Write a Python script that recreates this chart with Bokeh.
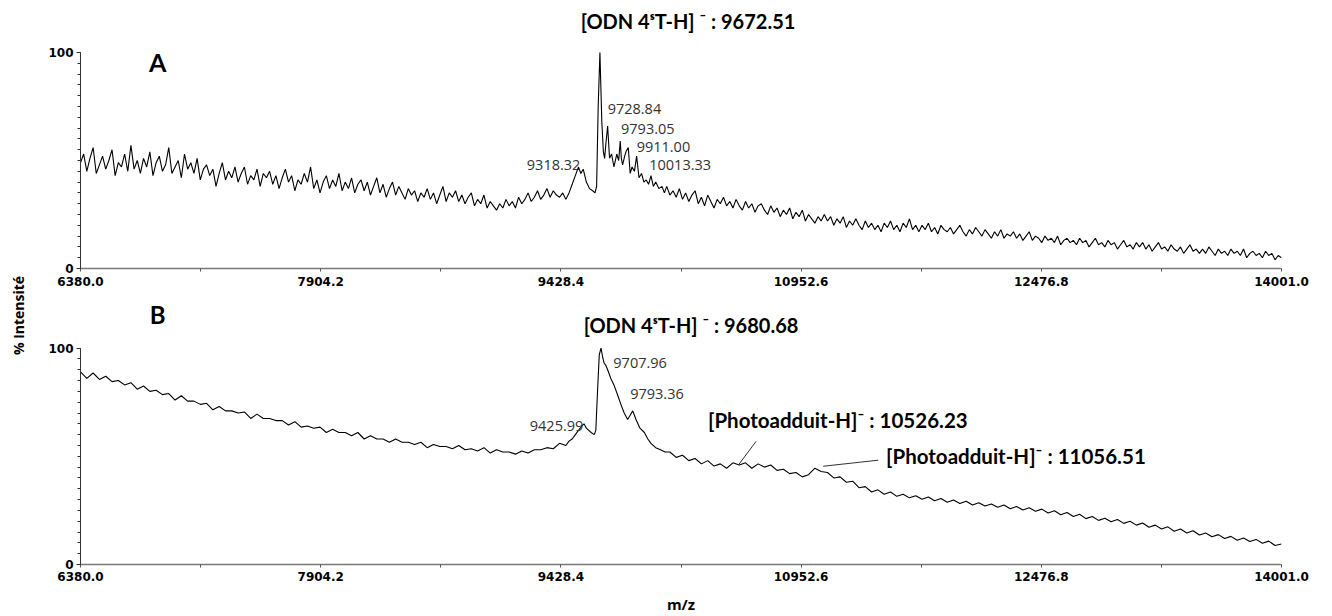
from math import pi
from bokeh.plotting import figure
from bokeh.models import Range1d, FixedTicker, NumeralTickFormatter, Label
from bokeh.layouts import row, column
from bokeh.embed import file_html
from bokeh.resources import INLINE

# ---------------- data ----------------
x_ticks = [6380.0, 7904.2, 9428.4, 10952.6, 12476.8, 14001.0]
x_minor = [7142.1, 8666.3, 10190.5, 11714.7, 13238.9]
y_ticks = [0, 100]

# ---- spectrum A (noisy) ----
a_left_mz = [
    6380, 6400, 6420, 6440, 6460, 6480, 6500, 6520, 6540, 6560,
    6580, 6600, 6620, 6640, 6660, 6680, 6700, 6720, 6740, 6760,
    6780, 6800, 6820, 6840, 6860, 6880, 6900, 6920, 6940, 6960,
    6980, 7000, 7020, 7040, 7060, 7080, 7100, 7120, 7140, 7160,
    7180, 7200, 7220, 7240, 7260, 7280, 7300, 7320, 7340, 7360,
    7380, 7400, 7420, 7440, 7460, 7480, 7500, 7520, 7540, 7560,
    7580, 7600, 7620, 7640, 7660, 7680, 7700, 7720, 7740, 7760,
    7780, 7800, 7820, 7840, 7860, 7880, 7900, 7920, 7940, 7960,
    7980, 8000, 8020, 8040, 8060, 8080, 8100, 8120, 8140, 8160,
    8180, 8200, 8220, 8240, 8260, 8280, 8300, 8320, 8340, 8360,
    8380, 8400, 8420, 8440, 8460, 8480, 8500, 8520, 8540, 8560,
    8580, 8600, 8620, 8640, 8660, 8680, 8700, 8720, 8740, 8760,
    8780, 8800, 8820, 8840, 8860, 8880, 8900, 8920, 8940, 8960,
    8980, 9000, 9020, 9040, 9060, 9080, 9100, 9120, 9140, 9160,
    9180, 9200, 9220, 9240, 9260, 9280, 9300, 9320, 9340, 9360,
    9380, 9400, 9420, 9440, 9460]
a_left = [
    49, 53, 45, 51, 56, 44, 48, 52, 46, 50,
    55, 43, 49, 47, 53, 45, 57, 46, 50, 44,
    51, 47, 54, 43, 49, 52, 45, 48, 56, 44,
    47, 50, 42, 53, 46, 49, 44, 51, 41, 46,
    48, 43, 46, 38, 44, 49, 41, 45, 42, 47,
    40, 44, 47, 39, 43, 41, 46, 38, 44, 42,
    45, 39, 43, 37, 42, 46, 40, 43, 36, 41,
    39, 44, 40, 47, 37, 41, 35, 40, 43, 37,
    41, 38, 44, 36, 40, 37, 42, 35, 39, 41,
    36, 40, 34, 38, 42, 35, 39, 33, 37, 40,
    34, 38, 35, 32, 37, 34, 36, 31, 35, 33,
    37, 32, 35, 30, 34, 38, 31, 35, 33, 36,
    31, 34, 30, 33, 35, 29, 32, 30, 34, 28,
    31, 29, 27, 30, 28, 32, 29, 31, 28, 33,
    30, 32, 35, 31, 33, 36, 32, 34, 37, 33,
    36, 34, 33, 35, 32]
a_peak_mz = [
    9480, 9500, 9520, 9540, 9555, 9570, 9590, 9610, 9630, 9645,
    9655, 9665, 9676, 9688, 9698, 9706, 9714, 9725, 9737, 9750,
    9765, 9783, 9795, 9805, 9812, 9820, 9833, 9841, 9856, 9868,
    9880, 9895, 9909, 9924, 9940, 9955, 9970, 9985, 10000, 10015,
    10030, 10050, 10070, 10085]
a_peak = [
    35, 39, 43, 47, 44, 46, 40, 37, 36, 35,
    38, 75, 100, 68, 54, 51, 58, 66, 51, 53,
    47, 53, 50, 59, 51, 48, 52, 54, 56, 44,
    47, 45, 52, 42, 44, 40, 41, 39, 43, 38,
    40, 37, 38, 35]
a_right_mz = [
    10100, 10120, 10140, 10160, 10180, 10200, 10220, 10240, 10260, 10280,
    10300, 10320, 10340, 10360, 10380, 10400, 10420, 10440, 10460, 10480,
    10500, 10520, 10540, 10560, 10580, 10600, 10620, 10640, 10660, 10680,
    10700, 10720, 10740, 10760, 10780, 10800, 10820, 10840, 10860, 10880,
    10900, 10920, 10940, 10960, 10980, 11000, 11020, 11040, 11060, 11080,
    11100, 11120, 11140, 11160, 11180, 11200, 11220, 11240, 11260, 11280,
    11300, 11320, 11340, 11360, 11380, 11400, 11420, 11440, 11460, 11480,
    11500, 11520, 11540, 11560, 11580, 11600, 11620, 11640, 11660, 11680,
    11700, 11720, 11740, 11760, 11780, 11800, 11820, 11840, 11860, 11880,
    11900, 11920, 11940, 11960, 11980, 12000, 12020, 12040, 12060, 12080,
    12100, 12120, 12140, 12160, 12180, 12200, 12220, 12240, 12260, 12280,
    12300, 12320, 12340, 12360, 12380, 12400, 12420, 12440, 12460, 12480,
    12500, 12520, 12540, 12560, 12580, 12600, 12620, 12640, 12660, 12680,
    12700, 12720, 12740, 12760, 12780, 12800, 12820, 12840, 12860, 12880,
    12900, 12920, 12940, 12960, 12980, 13000, 13020, 13040, 13060, 13080,
    13100, 13120, 13140, 13160, 13180, 13200, 13220, 13240, 13260, 13280,
    13300, 13320, 13340, 13360, 13380, 13400, 13420, 13440, 13460, 13480,
    13500, 13520, 13540, 13560, 13580, 13600, 13620, 13640, 13660, 13680,
    13700, 13720, 13740, 13760, 13780, 13800, 13820, 13840, 13860, 13880,
    13900, 13920, 13940, 13960, 13980, 14001]
a_right = [
    38, 34, 36, 33, 37, 32, 35, 31, 34, 36,
    30, 33, 29, 34, 31, 28, 32, 30, 33, 29,
    31, 28, 32, 29, 27, 31, 28, 30, 26, 29,
    30, 27, 25, 29, 26, 28, 24, 27, 25, 28,
    23, 26, 24, 27, 22, 25, 23, 21, 24, 22,
    25, 22, 24, 20, 23, 21, 24, 19, 22, 20,
    23, 20, 18, 22, 19, 21, 18, 20, 17, 21,
    19, 22, 18, 20, 17, 21, 19, 23, 18, 20,
    17, 20, 18, 21, 17, 19, 16, 20, 18, 17,
    19, 16, 18, 20, 17, 15, 18, 16, 19, 17,
    15, 18, 16, 14, 17, 15, 18, 14, 16, 15,
    17, 14, 16, 13, 15, 17, 13, 15, 14, 12,
    15, 13, 14, 12, 15, 11, 13, 14, 12, 13,
    11, 14, 12, 13, 10, 12, 14, 11, 12, 10,
    13, 11, 12, 9, 11, 13, 10, 11, 9, 12,
    10, 12, 9, 11, 8, 10, 12, 9, 10, 8,
    11, 9, 8, 10, 7, 9, 11, 8, 9, 7,
    9, 7, 10, 8, 6, 9, 7, 8, 6, 9,
    7, 8, 6, 9, 5, 7, 8, 6, 7, 5,
    8, 6, 7, 4, 6, 5]

# ---- spectrum B (smoother) ----
b_left_mz = [
    6380, 6420, 6460, 6500, 6540, 6580, 6620, 6660, 6700, 6740,
    6780, 6820, 6860, 6900, 6940, 6980, 7020, 7060, 7100, 7140,
    7180, 7220, 7260, 7300, 7340, 7380, 7420, 7460, 7500, 7540,
    7580, 7620, 7660, 7700, 7740, 7780, 7820, 7860, 7900, 7940,
    7980, 8020, 8060, 8100, 8140, 8180, 8220, 8260, 8300, 8340,
    8380, 8420, 8460, 8500, 8540, 8580, 8620, 8660, 8700, 8740,
    8780, 8820, 8860, 8900, 8940, 8980, 9020, 9060, 9100, 9140,
    9180, 9220, 9260, 9300, 9340, 9380, 9420, 9460]
b_left = [
    89, 86, 88.5, 85.5, 87, 84.5, 85, 83, 84, 81,
    82.5, 80, 80.5, 78.5, 79, 76, 78, 75.5, 75.5, 74,
    74.5, 71.5, 73, 71, 71, 70, 70.5, 67.5, 69.5, 67.5,
    67.5, 66.5, 66.5, 64.5, 66, 63.5, 64, 63, 63.5, 61,
    62.5, 61, 61, 59.5, 61, 58, 59.5, 58, 58, 56.5,
    58, 56.5, 56.5, 55.5, 56.5, 54, 55.5, 54.5, 54.5, 53.5,
    55, 53, 53.5, 52.5, 54, 51.5, 53, 52, 52, 51,
    52.5, 51.5, 53, 53, 54, 53.5, 56, 55]
b_peak_mz = [
    9480, 9500, 9520, 9540, 9560, 9575, 9590, 9605, 9620, 9640,
    9650, 9662, 9672, 9683, 9693, 9703, 9714, 9725, 9745, 9765,
    9790, 9809, 9830, 9852, 9868, 9884, 9895, 9905, 9930, 9958,
    9980, 10000, 10030, 10060, 10090]
b_peak = [
    57, 58, 60, 62, 64, 65, 63, 62, 61, 60,
    62, 82, 97, 100, 96, 93, 92, 90, 86, 83,
    78, 74, 70, 67, 69, 71, 69, 67, 63, 61,
    58, 56, 54, 53, 52]
b_right_mz = [
    10120, 10160, 10200, 10240, 10280, 10320, 10360, 10400, 10440, 10480,
    10520, 10560, 10600, 10640, 10680, 10720, 10760, 10800, 10840, 10880,
    10920, 10960, 11000, 11040, 11080, 11120, 11160, 11200, 11240, 11280,
    11320, 11360, 11400, 11440, 11480, 11520, 11560, 11600, 11640, 11680,
    11720, 11760, 11800, 11840, 11880, 11920, 11960, 12000, 12040, 12080,
    12120, 12160, 12200, 12240, 12280, 12320, 12360, 12400, 12440, 12480,
    12520, 12560, 12600, 12640, 12680, 12720, 12760, 12800, 12840, 12880,
    12920, 12960, 13000, 13040, 13080, 13120, 13160, 13200, 13240, 13280,
    13320, 13360, 13400, 13440, 13480, 13520, 13560, 13600, 13640, 13680,
    13720, 13760, 13800, 13840, 13880, 13920, 13960, 14001]
b_right = [
    52, 49.5, 50.5, 48, 49, 46.5, 48, 45.5, 46.5, 44.5,
    47, 46, 47, 44.5, 46.5, 45, 46, 43.5, 44, 42,
    42.5, 40.5, 41.5, 44.5, 43, 42.5, 40, 40.5, 38, 38.5,
    35.5, 36, 33.5, 34.5, 32.5, 33.5, 31.5, 32.5, 30.8, 31.8,
    30.2, 31.2, 29.5, 30.5, 28.8, 29.8, 28.2, 29.2, 27.5, 28.5,
    27, 28, 26.5, 27.5, 25.8, 26.8, 25.2, 26.2, 24.6, 25.6,
    23.8, 24.8, 23, 24, 22.2, 23.2, 21.2, 22.2, 20.4, 21.4,
    19.8, 20.8, 19, 20, 18.2, 19.2, 17.2, 18.2, 16.4, 17.4,
    15.4, 16.4, 14.6, 15.6, 13.6, 14.6, 12.8, 13.8, 12, 13,
    11.2, 12.2, 10.6, 11.6, 9.8, 10.8, 8.8, 9.5]

# ---- annotations ----
a_title = "[ODN 4ˢT-H] ⁻ : 9672.51"
b_title = "[ODN 4ˢT-H] ⁻ : 9680.68"
a_lab_text = ["9318.32", "9728.84", "9793.05", "9911.00", "10013.33"]
a_lab_mz = [9212, 9725, 9810, 9909, 9989]
a_lab_y = [47.7, 73.9, 64.7, 56.2, 47.7]
b_lab_text = ["9425.99", "9707.96", "9793.36"]
b_lab_mz = [9231, 9761, 9868]
b_lab_y = [63.9, 93.3, 78.9]
adduct_text = ["[Photoadduit-H]⁻ : 10526.23", "[Photoadduit-H]⁻ : 11056.51"]
adduct_peak_mz = [10558, 11092]
adduct_peak_y = [46.3, 45.4]
adduct_text_mz = [10362, 11492]
adduct_text_y = [67.0, 50.1]
lead_end_mz = [10667, 11442]
lead_end_y = [56.9, 48.2]

TICK_FONT = "DejaVu Sans"
BIG_FONT = "Lato"
SMALL_FONT = "Open Sans"

MAIN_W = 1292


def make_panel(height, ymax, bottom):
    p = figure(width=MAIN_W, height=height,
               x_range=Range1d(6380, 14001), y_range=Range1d(0, ymax),
               output_backend="svg", toolbar_location=None, title_location=None,
               min_border_left=42, min_border_right=MAIN_W - 42 - 1201,
               min_border_top=0, min_border_bottom=bottom)
    p.grid.visible = False
    p.outline_line_color = None
    p.background_fill_color = "white"
    p.border_fill_color = "white"
    xa = p.xaxis[0]
    xa.ticker = FixedTicker(ticks=x_ticks, minor_ticks=x_minor)
    xa.formatter = NumeralTickFormatter(format="0.0")
    xa.major_label_text_font = TICK_FONT
    xa.major_label_text_font_style = "bold"
    xa.major_label_text_font_size = "12px"
    xa.major_label_text_color = "black"
    xa.major_label_standoff = 5
    xa.axis_line_color = "#777777"
    xa.axis_line_width = 1.5
    xa.major_tick_line_color = "#555555"
    xa.minor_tick_line_color = "#555555"
    xa.major_tick_out = 3
    xa.major_tick_in = 0
    xa.minor_tick_out = 3
    xa.minor_tick_in = 0
    ya = p.yaxis[0]
    ya.bounds = (0, 100)
    ya.ticker = FixedTicker(ticks=y_ticks, minor_ticks=list(range(0, 101, 5)))
    ya.major_label_text_font = TICK_FONT
    ya.major_label_text_font_style = "bold"
    ya.major_label_text_font_size = "12px"
    ya.major_label_text_color = "black"
    ya.major_label_standoff = 3
    ya.axis_line_color = "#333333"
    ya.major_tick_line_color = "#333333"
    ya.minor_tick_line_color = "#333333"
    ya.major_tick_out = 4
    ya.major_tick_in = 0
    ya.minor_tick_out = 3
    ya.minor_tick_in = 0
    return p


def txt(p, x, y, text, font, size, bold=False, align="left", color="black", angle=0.0):
    p.add_layout(Label(x=x, y=y, text=text, text_font=font, text_font_size=size,
                       text_font_style="bold" if bold else "normal",
                       text_align=align, text_baseline="middle",
                       text_color=color, angle=angle))


# ---------------- panel A (frame: page y 0..268, 100 % at y=52) ----------------
pa = make_panel(296, 268 / 2.16, 28)
pa.line(a_left_mz + a_peak_mz + a_right_mz, a_left + a_peak + a_right,
        line_color="black", line_width=1.1)
txt(pa, 10235, 114.4, a_title, BIG_FONT, "20px", bold=True, align="center")
txt(pa, 6869, 95.4, "A", BIG_FONT, "25px", bold=True, align="center")
for t, x, y in zip(a_lab_text, a_lab_mz, a_lab_y):
    txt(pa, x, y, t, SMALL_FONT, "14.5px", color="#333333")

# ---------------- panel B (frame: page y 296..566, 100 % at y=348) ----------------
pb = make_panel(320, 270 / 2.18, 50)
pb.line(b_left_mz + b_peak_mz + b_right_mz, b_left + b_peak + b_right,
        line_color="black", line_width=1.1)
pb.segment(x0=adduct_peak_mz, y0=adduct_peak_y, x1=lead_end_mz, y1=lead_end_y,
           line_color="#333333", line_width=1)
txt(pb, 10254, 110.6, b_title, BIG_FONT, "20px", bold=True, align="center")
txt(pb, 6869, 115.6, "B", BIG_FONT, "24px", bold=True, align="center")
for t, x, y in zip(b_lab_text, b_lab_mz, b_lab_y):
    txt(pb, x, y, t, SMALL_FONT, "14.5px", color="#333333")
for t, x, y in zip(adduct_text, adduct_text_mz, adduct_text_y):
    txt(pb, x, y, t, BIG_FONT, "20.5px", bold=True)
xb = pb.xaxis[0]
xb.major_label_standoff = 4
xb.axis_label = "m/z"
xb.axis_label_text_font = SMALL_FONT
xb.axis_label_text_font_style = "bold"
xb.axis_label_text_font_size = "15px"
xb.axis_label_text_color = "black"
xb.axis_label_standoff = 10

# ---------------- shared y-axis title ----------------
pl = figure(width=38, height=616, x_range=Range1d(0, 38), y_range=Range1d(0, 616),
            output_backend="svg", toolbar_location=None, title_location=None,
            x_axis_location=None, y_axis_location=None, min_border=0)
pl.grid.visible = False
pl.outline_line_color = None
txt(pl, 18, 616 - 315, "% Intensité", SMALL_FONT, "14px", bold=True,
    align="center", angle=pi / 2)

layout = row(pl, column(pa, pb))
open("out.html", "w").write(file_html(layout, INLINE))
